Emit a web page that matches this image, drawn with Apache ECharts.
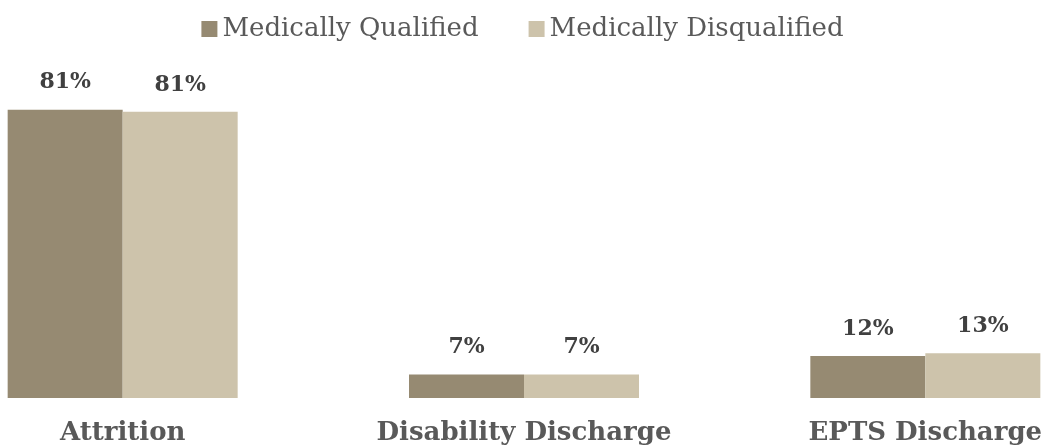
<!DOCTYPE html>
<html>
<head>
<meta charset="utf-8">
<script src="https://cdn.jsdelivr.net/npm/echarts@6/dist/echarts.min.js"></script>
<style>html,body{margin:0;padding:0;background:#fff}#c{width:1045px;height:448px}</style>
</head>
<body>
<div id="c"></div>
<script>
var categories = ['Attrition', 'Disability Discharge', 'EPTS Discharge'];
var qualified = [81.2, 6.6, 11.8];
var disqualified = [80.6, 6.6, 12.6];
var seriesNames = ['Medically Qualified', 'Medically Disqualified'];

var chart = echarts.init(document.getElementById('c'));
var font = '"DejaVu Serif", serif';
var lbl = {
  show: true, position: 'top', distance: 16,
  formatter: function (p) { return Math.round(p.value) + '%'; },
  fontFamily: font, fontWeight: 'bold', fontSize: 22, color: '#404040'
};
chart.setOption({
  animation: false,
  legend: {
    top: 11, left: 'center', itemWidth: 16, itemHeight: 16, itemGap: 50,
    icon: 'rect',
    textStyle: { fontFamily: font, fontSize: 26, color: '#595959' },
    data: seriesNames
  },
  grid: { left: -78, width: 1204, top: 43, bottom: 50, outerBoundsMode: 'none', containLabel: false },
  xAxis: {
    type: 'category', data: categories,
    axisLine: { show: false }, axisTick: { show: false },
    axisLabel: { margin: 22, fontFamily: font, fontWeight: 'bold', fontSize: 26, color: '#595959' }
  },
  yAxis: { type: 'value', min: 0, max: 100, show: false, splitLine: { show: false } },
  series: [
    { name: seriesNames[0], type: 'bar', data: qualified, barWidth: 115, barGap: '0%',
      itemStyle: { color: '#968a72' }, label: lbl },
    { name: seriesNames[1], type: 'bar', data: disqualified, barWidth: 115, barGap: '0%',
      itemStyle: { color: '#cdc3ab' }, label: lbl }
  ]
});
</script>
</body>
</html>
